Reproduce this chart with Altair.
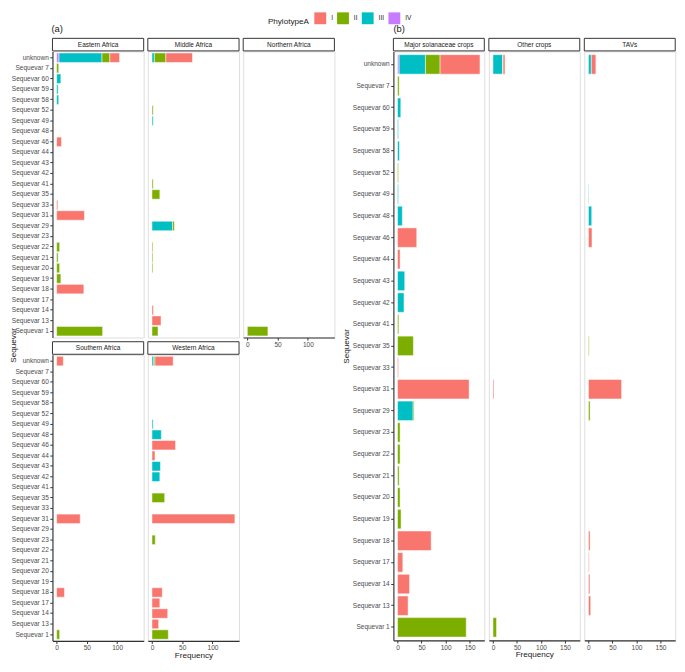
import altair as alt
import pandas as pd

# ---------------- data ----------------
categories = ["unknown", "Sequevar 7", "Sequevar 60", "Sequevar 59", "Sequevar 58",
              "Sequevar 52", "Sequevar 49", "Sequevar 48", "Sequevar 46", "Sequevar 44",
              "Sequevar 43", "Sequevar 42", "Sequevar 41", "Sequevar 35", "Sequevar 33",
              "Sequevar 31", "Sequevar 29", "Sequevar 23", "Sequevar 22", "Sequevar 21",
              "Sequevar 20", "Sequevar 19", "Sequevar 18", "Sequevar 17", "Sequevar 14",
              "Sequevar 13", "Sequevar 1"]
phylotypes = ["I", "II", "III", "IV"]
phylo_colors = ["#F8766D", "#7CAE00", "#00BFC4", "#C77CFF"]

# (a) regions
eastern_seq = ["unknown", "unknown", "unknown", "unknown", "Sequevar 7", "Sequevar 60",
               "Sequevar 59", "Sequevar 58", "Sequevar 46", "Sequevar 33", "Sequevar 31",
               "Sequevar 22", "Sequevar 21", "Sequevar 20", "Sequevar 19", "Sequevar 18",
               "Sequevar 1"]
eastern_phy = ["IV", "III", "II", "I", "II", "III", "III", "III", "I", "I", "I",
               "II", "II", "II", "II", "I", "II"]
eastern_n = [4, 71, 13, 16, 3.5, 7, 2.5, 3.5, 8, 2, 46, 5, 2.5, 5, 7, 45, 76]

middle_seq = ["unknown", "unknown", "unknown", "Sequevar 52", "Sequevar 49", "Sequevar 41",
              "Sequevar 35", "Sequevar 29", "Sequevar 29", "Sequevar 22", "Sequevar 21",
              "Sequevar 20", "Sequevar 14", "Sequevar 13", "Sequevar 1"]
middle_phy = ["III", "II", "I", "II", "III", "II", "II", "III", "II", "II", "II", "II",
              "I", "I", "II"]
middle_n = [4, 19, 44, 2, 2, 2, 13, 34, 3, 1.5, 1.5, 1.5, 2.5, 15, 10]

northern_seq = ["Sequevar 1"]
northern_phy = ["II"]
northern_n = [34]

southern_seq = ["unknown", "Sequevar 31", "Sequevar 18", "Sequevar 1"]
southern_phy = ["I", "I", "I", "II"]
southern_n = [11, 39, 13, 5]

western_seq = ["unknown", "unknown", "unknown", "Sequevar 49", "Sequevar 48", "Sequevar 46",
               "Sequevar 44", "Sequevar 43", "Sequevar 42", "Sequevar 35", "Sequevar 31",
               "Sequevar 23", "Sequevar 18", "Sequevar 17", "Sequevar 14", "Sequevar 13",
               "Sequevar 1"]
western_phy = ["III", "II", "I", "III", "III", "I", "I", "III", "III", "II", "I", "II",
               "I", "I", "I", "I", "II"]
western_n = [3, 2, 30, 2, 15.5, 39, 5, 14, 13, 21, 137, 5.5, 17, 13, 26, 11, 27]

# (b) hosts
major_seq = ["unknown", "unknown", "unknown", "unknown", "Sequevar 7", "Sequevar 60",
             "Sequevar 59", "Sequevar 58", "Sequevar 52", "Sequevar 49", "Sequevar 48",
             "Sequevar 46", "Sequevar 44", "Sequevar 43", "Sequevar 42", "Sequevar 41",
             "Sequevar 35", "Sequevar 33", "Sequevar 31", "Sequevar 29", "Sequevar 29",
             "Sequevar 23", "Sequevar 22", "Sequevar 21", "Sequevar 20", "Sequevar 19",
             "Sequevar 18", "Sequevar 17", "Sequevar 14", "Sequevar 13", "Sequevar 1"]
major_phy = ["IV", "III", "II", "I", "II", "III", "III", "III", "II", "III", "III",
             "I", "I", "III", "III", "II", "II", "I", "I", "III", "II",
             "II", "II", "II", "II", "II", "I", "I", "I", "I", "II"]
major_n = [3.4, 54.7, 30.5, 83, 3.4, 6.8, 2, 4, 2, 2, 10, 40, 5.4, 15, 13.5, 2.7, 33, 2,
           149, 32.5, 2, 5.4, 5.4, 3.4, 5.4, 7.4, 70, 11, 25, 22, 143]

other_seq = ["unknown", "unknown", "unknown", "Sequevar 31", "Sequevar 1"]
other_phy = ["III", "II", "I", "I", "II"]
other_n = [20, 1, 4, 2, 7.4]

tavs_seq = ["unknown", "unknown", "Sequevar 49", "Sequevar 48", "Sequevar 46", "Sequevar 35",
            "Sequevar 31", "Sequevar 29", "Sequevar 18", "Sequevar 17", "Sequevar 14",
            "Sequevar 13"]
tavs_phy = ["III", "I", "III", "III", "I", "II", "I", "II", "I", "I", "I", "I"]
tavs_n = [6, 9.5, 1, 6.8, 7.4, 1.5, 69, 3.4, 3.4, 1.5, 3, 4.7]

left_ticks = [0, 50, 100]
right_ticks = [0, 50, 100, 150]

# ---------------- styling / geometry ----------------
FONT = "Liberation Sans"
LW, LH = 92.3, 289.5      # left panel size
RW, RH = 92.0, 596.0      # right panel size
left_domain = [-6.85, 143.85]
right_domain = [-8.6, 180.6]

legend = alt.Legend(orient="none", legendX=218, legendY=-39.5, direction="horizontal",
                    titleOrient="left", title="PhylotypeA", titleFontSize=8.2,
                    titleFontWeight="normal", titleColor="#1a1a1a", titlePadding=5,
                    titleBaseline="top",
                    labelFontSize=6.6, labelColor="#1a1a1a", labelOffset=5,
                    columnPadding=4, symbolType="square", symbolSize=144,
                    symbolStrokeWidth=0, padding=0)


def make_df(seq, phy, n):
    return pd.DataFrame({"Sequevar": seq, "Phylotype": phy, "Frequency": n})


def spacer(width):
    # invisible block that keeps the top edge of every panel group level
    return alt.Chart(pd.DataFrame({"s": [0]})).mark_rect(opacity=0).encode(
        x=alt.value(0), x2=alt.value(width), y=alt.value(-30), y2=alt.value(-14))


def panel(name, seq, phy, n, width, height, xdomain, xticks,
          show_x=False, show_y=False, x_title=None, y_title=None, extra=(), top=False):
    if show_x:
        xaxis = alt.Axis(values=xticks, labelFlush=False, title=x_title, titlePadding=0)
    else:
        xaxis = None
    if show_y:
        yaxis = alt.Axis(title=y_title, titlePadding=2)
    else:
        yaxis = None
    bars = alt.Chart(make_df(seq, phy, n)).mark_bar(stroke="white", strokeWidth=0.5).encode(
        x=alt.X("Frequency:Q", stack="zero",
                scale=alt.Scale(domain=xdomain, nice=False, zero=False), axis=xaxis),
        y=alt.Y("Sequevar:N", sort=categories,
                scale=alt.Scale(domain=categories, paddingInner=0.1, paddingOuter=0.15),
                axis=yaxis),
        color=alt.Color("Phylotype:N",
                        scale=alt.Scale(domain=phylotypes, range=phylo_colors),
                        legend=legend),
        order=alt.Order("Phylotype:N", sort="descending"),
    )
    strip_df = pd.DataFrame({"label": [name]})
    strip_box = alt.Chart(strip_df).mark_rect(fill="white", stroke="#333333",
                                              strokeWidth=1).encode(
        x=alt.value(0), x2=alt.value(width), y=alt.value(-13.2), y2=alt.value(-0.5))
    strip_txt = alt.Chart(strip_df).mark_text(fontSize=6.6, color="#1a1a1a",
                                              baseline="middle", align="center",
                                              font=FONT).encode(
        text="label:N", x=alt.value(width / 2), y=alt.value(-6.8))
    layers = [bars, strip_box, strip_txt] + list(extra)
    if top:
        layers.append(spacer(width))
    return alt.layer(*layers).properties(width=width, height=height)


tag_a = alt.Chart(pd.DataFrame({"t": ["(a)"]})).mark_text(
    fontSize=9.5, align="left", baseline="middle", color="#1a1a1a", font=FONT).encode(
    text="t:N", x=alt.value(-1), y=alt.value(-22.5))
tag_b = alt.Chart(pd.DataFrame({"t": ["(b)"]})).mark_text(
    fontSize=9.5, align="left", baseline="middle", color="#1a1a1a", font=FONT).encode(
    text="t:N", x=alt.value(0), y=alt.value(-22.5))
left_ytitle = alt.Chart(pd.DataFrame({"t": ["Sequevar"]})).mark_text(
    fontSize=8.2, angle=270, align="center", baseline="middle", color="#1a1a1a",
    font=FONT).encode(text="t:N", x=alt.value(-38.9), y=alt.value(297.5))

E = panel("Eastern Africa", eastern_seq, eastern_phy, eastern_n, LW, LH, left_domain,
          left_ticks, show_y=True, extra=(tag_a, left_ytitle), top=True)
M = panel("Middle Africa", middle_seq, middle_phy, middle_n, LW, LH, left_domain,
          left_ticks, top=True)
N = panel("Northern Africa", northern_seq, northern_phy, northern_n, LW, LH, left_domain,
          left_ticks, show_x=True, top=True)
S = panel("Southern Africa", southern_seq, southern_phy, southern_n, LW, LH, left_domain,
          left_ticks, show_x=True, show_y=True)
W = panel("Western Africa", western_seq, western_phy, western_n, LW, LH, left_domain,
          left_ticks, show_x=True, x_title="Frequency")

MAJ = panel("Major solanaceae crops", major_seq, major_phy, major_n, RW, RH, right_domain,
            right_ticks, show_x=True, show_y=True, y_title="Sequevar", extra=(tag_b,),
            top=True)
OTH = panel("Other crops", other_seq, other_phy, other_n, RW, RH, right_domain,
            right_ticks, show_x=True, x_title="Frequency", top=True)
TAV = panel("TAVs", tavs_seq, tavs_phy, tavs_n, RW, RH, right_domain, right_ticks,
            show_x=True, top=True)

col1 = alt.vconcat(E, S, spacing=17, bounds="flush")
col2 = alt.vconcat(M, W, spacing=17, bounds="flush")
left = alt.hconcat(col1, col2, N, spacing=1.5, bounds="full")
right = alt.hconcat(MAJ, OTH, TAV, spacing=2.6, bounds="full")

chart = alt.hconcat(left, right, spacing=4.0, bounds="full").properties(
    padding=0
).configure_view(stroke=None).configure(font=FONT).configure_axis(
    labelFontSize=6.6, labelColor="#4d4d4d", labelFont=FONT,
    tickColor="#333333", tickSize=2.7, labelPadding=1.5,
    domainColor="#333333", domainWidth=1.1,
    titleFontSize=8.2, titleFontWeight="normal", titleColor="#1a1a1a", titleFont=FONT,
    grid=False,
).configure_legend(labelFont=FONT, titleFont=FONT)

chart.save("out.html", embed_options={"renderer": "svg", "actions": False})
